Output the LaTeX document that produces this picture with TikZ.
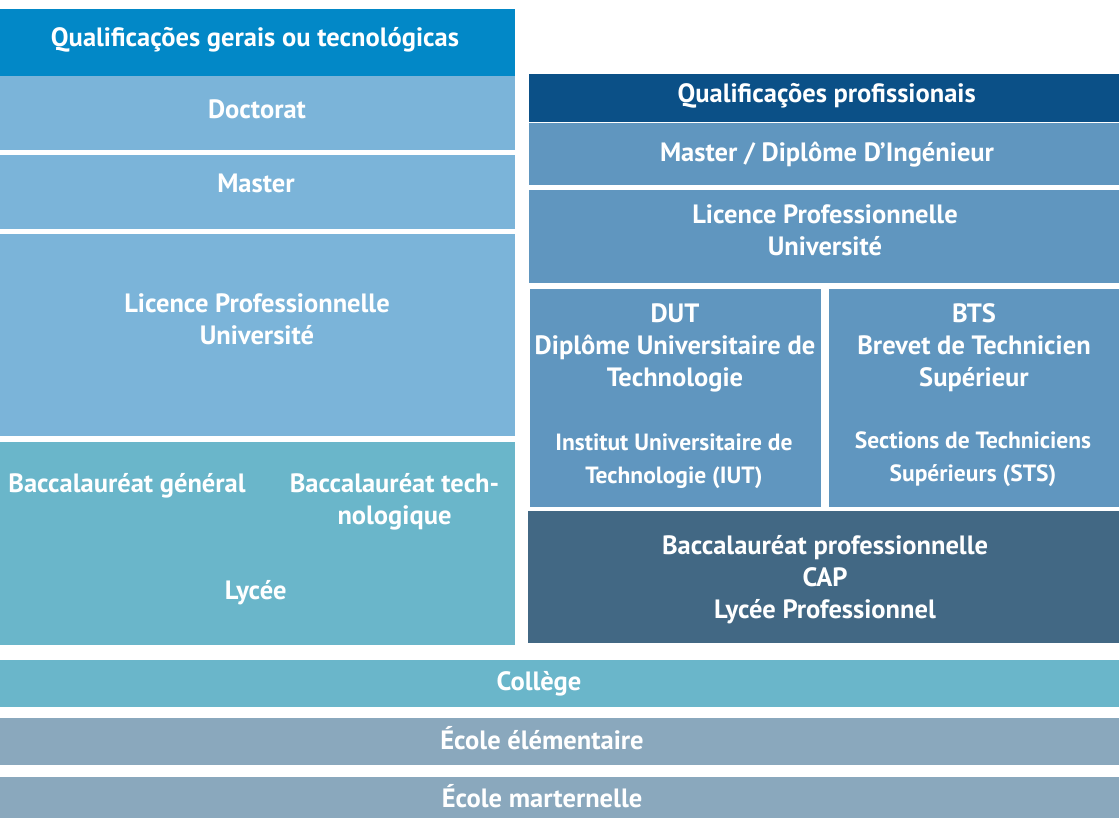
\documentclass[tikz,border=0pt]{standalone}
\usepackage{fontspec}
\setmainfont{PT Sans}
\usetikzlibrary{positioning}

\definecolor{genhead}{RGB}{2,136,199}
\definecolor{genlight}{RGB}{123,180,217}
\definecolor{lyceeblue}{RGB}{106,182,202}
\definecolor{prohead}{RGB}{11,80,135}
\definecolor{prolight}{RGB}{96,150,191}
\definecolor{prodark}{RGB}{66,104,132}
\definecolor{ecolegrey}{RGB}{138,168,189}

\tikzset{%
    blk/.style={rectangle,inner sep=0pt,outer sep=0pt,draw=none},
    lbl/.style={text=white,inner sep=0pt,align=center,anchor=base,
        font=\bfseries\fontsize{26.5}{32}\selectfont},
    lblsmall/.style={lbl,font=\bfseries\fontsize{23.5}{33}\selectfont},
}

\begin{document}
\begin{tikzpicture}[x=1pt,y=-1pt]
    \useasboundingbox (0,0) rectangle (1119,818);
    % general track
    \node [blk,fill=genhead,minimum width=515pt,minimum height=66.7pt] (qgen) at (257.5,42.35) {};
    \node [blk,fill=genlight,minimum width=515pt,minimum height=74.3pt] (doct) at (257.5,112.85) {};
    \node [blk,fill=genlight,minimum width=515pt,minimum height=74pt] (mast) at (257.5,192) {};
    \node [blk,fill=genlight,minimum width=515pt,minimum height=202pt] (lic) at (257.5,335) {};
    \node [blk,fill=lyceeblue,minimum width=515pt,minimum height=203pt] (lyc) at (257.5,543.5) {};
    \node [lbl] (tqgen) at (255,47) {Qualificações gerais ou tecnológicas};
    \node [lbl] (tdoct) at (257,119) {Doctorat};
    \node [lbl] (tmast) at (256,193) {Master};
    \node [lbl] (tlic) at (257,344.5) {Licence Professionnelle\\Université};
    \node [lbl] (tbacg) at (127,492.7) {Baccalauréat général};
    \node [lbl] (tbact) at (394.5,524) {Baccalauréat tech-\\nologique};
    \node [lbl] (tlyc) at (255.7,599) {Lycée};
    % professional track
    \node [blk,fill=prohead,minimum width=590.5pt,minimum height=47.7pt] (qpro) at (823.75,97.85) {};
    \node [blk,fill=prolight,minimum width=590.5pt,minimum height=62.3pt] (mdip) at (823.75,153.85) {};
    \node [blk,fill=prolight,minimum width=590.5pt,minimum height=93pt] (licpro) at (823.75,236.5) {};
    \node [blk,fill=prolight,minimum width=290.6pt,minimum height=217.4pt] (dut) at (675.3,398) {};
    \node [blk,fill=prolight,minimum width=290.5pt,minimum height=217.4pt] (bts) at (973.75,398) {};
    \node [blk,fill=prodark,minimum width=591pt,minimum height=131.7pt] (bacpro) at (823.5,576.85) {};
    \node [lbl] (tqpro) at (826.7,103) {Qualificações profissionais};
    \node [lbl] (tmdip) at (827,161.7) {Master / Diplôme D’Ingénieur};
    \node [lbl] (tlicpro) at (825,256) {Licence Professionnelle\\Université};
    \node [lbl] (tdut) at (675,386) {DUT\\Diplôme Universitaire de\\Technologie};
    \node [lblsmall] (tiut) at (674,483) {Institut Universitaire de\\Technologie (IUT)};
    \node [lbl] (tbts) at (974,386) {BTS\\Brevet de Technicien\\Supérieur};
    \node [lblsmall] (tsts) at (973,481.7) {Sections de Techniciens\\Supérieurs (STS)};
    \node [lbl] (tbacpro) at (825,618.3) {Baccalauréat professionnelle\\CAP\\Lycée Professionnel};
    % common levels
    \node [blk,fill=lyceeblue,minimum width=1119pt,minimum height=46.7pt] (coll) at (559.5,683.35) {};
    \node [blk,fill=ecolegrey,minimum width=1119pt,minimum height=47pt] (elem) at (559.5,741.5) {};
    \node [blk,fill=ecolegrey,minimum width=1119pt,minimum height=41.3pt] (mat) at (559.5,797.35) {};
    \node [lbl] (tcoll) at (539,690) {Collège};
    \node [lbl] (telem) at (542,749) {École élémentaire};
    \node [lbl] (tmat) at (542,807.5) {École marternelle};
\end{tikzpicture}
\end{document}
